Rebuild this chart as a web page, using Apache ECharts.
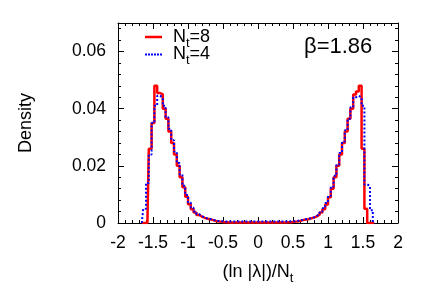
<!DOCTYPE html>
<html><head><meta charset="utf-8">
<script src="https://cdn.jsdelivr.net/npm/echarts@6/dist/echarts.min.js"></script>
<style>html,body{margin:0;padding:0;background:#fff}#c{width:436px;height:305px}</style>
</head><body><div id="c"></div>
<script>
const binCenters = [-1.66,-1.62,-1.58,-1.54,-1.50,-1.46,-1.42,-1.38,-1.34,-1.30,-1.26,-1.22,-1.18,-1.14,-1.10,-1.06,-1.02,-0.98,-0.94,-0.90,-0.86,-0.82,-0.78,-0.74,-0.70,-0.66,-0.62,-0.58,-0.54,-0.50,-0.46,-0.42,-0.38,-0.34,-0.30,-0.26,-0.22,-0.18,-0.14,-0.10,-0.06,-0.02,
 0.02,0.06,0.10,0.14,0.18,0.22,0.26,0.30,0.34,0.38,0.42,0.46,0.50,0.54,0.58,0.62,0.66,0.70,0.74,0.78,0.82,0.86,0.90,0.94,0.98,1.02,1.06,1.10,1.14,1.18,1.22,1.26,1.30,1.34,1.38,1.42,1.46,1.50,1.54,1.58,1.62,1.66];
const densityNt8 = [0,0,0,0.026,0.035,0.048,0.0455,0.045,0.040,0.0365,0.032,0.028,0.024,0.020,0.016,0.0125,0.0092,0.0066,0.0048,0.0037,0.0028,0.0022,0.0018,0.0015,0.0013,0.0010,0.0007,0.0005,0.0004,0.0003,0.0003,0.0002,0.0002,0.0002,0.0002,0.0002,0.0002,0.0002,0.0002,0.0002,0.0002,0.0002,
 0.0002,0.0002,0.0002,0.0002,0.0002,0.0002,0.0002,0.0002,0.0002,0.0002,0.0003,0.0003,0.0004,0.0005,0.0007,0.0010,0.0012,0.0013,0.0016,0.0019,0.0023,0.0029,0.0037,0.0048,0.0065,0.0090,0.0120,0.0160,0.0200,0.0240,0.0280,0.0320,0.0365,0.0400,0.0450,0.0460,0.0480,0.0260,0.0050,0,0,0];
const densityNt4 = [0,0.005,0.014,0.024,0.035,0.041,0.0445,0.044,0.041,0.037,0.033,0.029,0.025,0.021,0.017,0.013,0.0098,0.0072,0.0053,0.0040,0.0031,0.0024,0.0019,0.0016,0.0014,0.0011,0.0009,0.0007,0.0006,0.0006,0.0005,0.0005,0.0005,0.0005,0.0005,0.0005,0.0005,0.0005,0.0005,0.0005,0.0005,0.0005,
 0.0005,0.0005,0.0005,0.0005,0.0005,0.0005,0.0005,0.0005,0.0005,0.0005,0.0005,0.0006,0.0006,0.0007,0.0009,0.0011,0.0013,0.0015,0.0017,0.0020,0.0025,0.0031,0.0040,0.0052,0.0070,0.0095,0.0128,0.0165,0.0205,0.0245,0.0285,0.0325,0.0365,0.0405,0.0440,0.0445,0.0440,0.0410,0.0135,0.0130,0.0045,0];
const xTicks = [-2,-1.5,-1,-0.5,0,0.5,1,1.5,2];
const yTicks = [0,0.02,0.04,0.06];
const legendNames = ['N_t=8','N_t=4'];
const betaLabel = 'β=1.86';

const FONT = 'Liberation Sans, Arial, Helvetica, sans-serif';
const chart = echarts.init(document.getElementById('c'), null, {renderer:'canvas'});
const pair = (vals) => binCenters.map((c,i)=>[c, vals[i]]);
const subRich = {
  a:{fontSize:18, fontFamily:FONT, color:'#000'},
  b:{fontSize:18, fontFamily:FONT, color:'#000', padding:[0,0,0,6]},
  s:{fontSize:13, fontFamily:FONT, color:'#000', padding:[12,0,0,0]}
};
const fmtSub = (name)=>{const p=name.split('_'); const rest=p[1]; return '{b|'+p[0]+'}{s|'+rest[0]+'}{a|'+rest.slice(1)+'}';};
const dotsIcon = 'path://M0,0h2v2h-2zM3,0h2v2h-2zM6,0h2v2h-2zM9,0h2v2h-2zM12,0h2v2h-2zM15,0h2v2h-2z';
const G = {left:118, right:38, top:23, bottom:82};
const tickFmtY = v => { if (yTicks.some(t=>Math.abs(t-v)<1e-9)) return v===0?'0':String(Math.round(v*100)/100); return ''; };
const tickFmtX = v => xTicks.some(t=>Math.abs(t-v)<1e-9) ? String(v) : '';
const axLine = {show:true, onZero:false, lineStyle:{color:'#000', width:1}};
chart.setOption({
  animation:false,
  backgroundColor:'#fff',
  grid:G,
  legend:{
    left:140, top:23, orient:'vertical', itemGap:-4, itemWidth:17, itemHeight:2.5,
    data:[{name:legendNames[0], icon:'rect', itemStyle:{color:'#ff0000'}},
          {name:legendNames[1], icon:dotsIcon, itemStyle:{color:'#0000ff'}}],
    formatter:fmtSub,
    textStyle:{rich:subRich, fontSize:18},
  },
  graphic:[{type:'text', left:304, top:36, style:{text:betaLabel, font:'22px '+FONT, fill:'#000'}}],
  xAxis:[
    {type:'value', min:-2, max:2, interval:0.5, position:'bottom',
     name:'{a|(ln |λ|)/N}{s|t}', nameLocation:'middle', nameGap:37,
     nameTextStyle:{rich:subRich},
     axisLine:axLine,
     axisTick:{inside:true, length:6, lineStyle:{color:'#000'}},
     minorTick:{show:true, splitNumber:5, length:3, lineStyle:{color:'#000'}},
     axisLabel:{color:'#000', fontSize:17.5, fontFamily:FONT, margin:11, formatter:tickFmtX},
     splitLine:{show:false}},
    {type:'value', min:-2, max:2, interval:0.5, position:'top',
     axisLine:axLine,
     axisTick:{inside:true, length:6, lineStyle:{color:'#000'}},
     minorTick:{show:true, splitNumber:5, length:3, lineStyle:{color:'#000'}},
     axisLabel:{show:false}, splitLine:{show:false}}
  ],
  yAxis:[
    {type:'value', min:0, max:0.07, interval:0.02, position:'left',
     name:'Density', nameLocation:'middle', nameGap:83, nameRotate:90,
     nameTextStyle:{color:'#000', fontSize:18, fontFamily:FONT},
     axisLine:axLine,
     axisTick:{show:true, inside:true, length:6, lineStyle:{color:'#000'}},
     axisLabel:{color:'#000', fontSize:17.5, fontFamily:FONT, margin:12, formatter:tickFmtY, showMaxLabel:false},
     splitLine:{show:false}},
    {type:'value', min:0, max:0.07, interval:0.02, position:'right',
     axisLine:axLine,
     axisTick:{show:true, inside:true, length:6, lineStyle:{color:'#000'}},
     axisLabel:{show:false}, splitLine:{show:false}},
    {type:'value', min:0, max:0.07, interval:0.004, position:'left', offset:0,
     axisLine:{show:false, onZero:false}, axisTick:{show:true, inside:true, length:3, lineStyle:{color:'#000'}},
     axisLabel:{show:false}, splitLine:{show:false}},
    {type:'value', min:0, max:0.07, interval:0.004, position:'right', offset:0,
     axisLine:{show:false, onZero:false}, axisTick:{show:true, inside:true, length:3, lineStyle:{color:'#000'}},
     axisLabel:{show:false}, splitLine:{show:false}}
  ],
  series:[
    {name:legendNames[0], type:'line', step:'middle', data:pair(densityNt8), showSymbol:false, symbol:'none',
     lineStyle:{color:'#ff0000', width:2.5}, itemStyle:{color:'#ff0000'}, z:2},
    {name:legendNames[1], type:'line', step:'middle', data:pair(densityNt4), showSymbol:false, symbol:'none',
     lineStyle:{color:'#0000ff', width:2, type:[2,2]}, itemStyle:{color:'#0000ff'}, z:3}
  ]
});
</script></body></html>
